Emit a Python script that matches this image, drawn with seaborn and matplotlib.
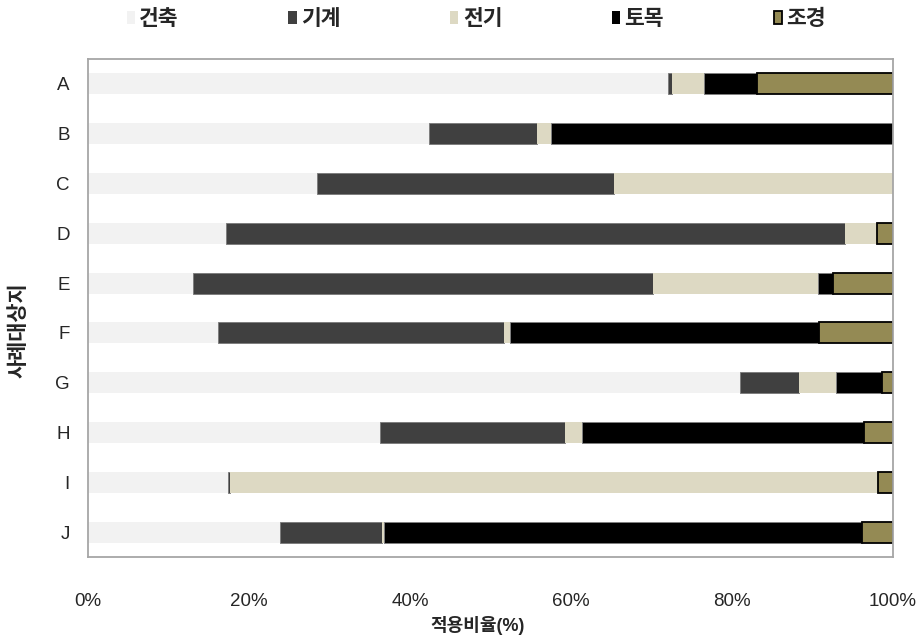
import matplotlib
matplotlib.use("Agg")
import matplotlib.pyplot as plt
from matplotlib.patches import Patch
import seaborn as sns
import pandas as pd

# Case sites and the share (%) of each discipline
sites = ["A", "B", "C", "D", "E", "F", "G", "H", "I", "J"]
series_names = ["건축", "기계", "전기", "토목", "조경"]
architecture = [72.1, 42.4, 28.5, 17.1, 13.0, 16.2, 81.0, 36.3, 17.4, 23.9]
mechanical = [0.5, 13.4, 36.9, 76.9, 57.2, 35.5, 7.3, 22.9, 0.3, 12.6]
electrical = [3.9, 1.7, 34.6, 4.0, 20.5, 0.7, 4.6, 2.2, 80.4, 0.3]
civil = [6.6, 42.5, 0.0, 0.0, 1.9, 38.4, 5.7, 35.0, 0.0, 59.4]
landscape = [16.9, 0.0, 0.0, 2.0, 7.4, 9.2, 1.4, 3.6, 1.9, 3.8]
x_ticks = [0, 20, 40, 60, 80, 100]
x_tick_labels = ["0%", "20%", "40%", "60%", "80%", "100%"]

series_values = [architecture, mechanical, electrical, civil, landscape]
colors = ["#f2f2f2", "#404040", "#ddd9c3", "#000000", "#948a54"]
edges = ["none", "#7f7f7f", "none", "#7f7f7f", "#000000"]
edge_widths = [0, 0.7, 0, 0.7, 1.3]

sns.set_style("white")
plt.rcParams["font.family"] = ["Liberation Sans", "Noto Sans CJK KR", "DejaVu Sans"]

fig = plt.figure(figsize=(9.23, 6.42), dpi=100)
ax = fig.add_axes([88 / 923, 1 - 557 / 642, 805 / 923, 498 / 642])

left = [0.0] * len(sites)
for name, vals, col, ec, lw in zip(series_names, series_values, colors, edges, edge_widths):
    df = pd.DataFrame({"site": sites, "value": vals})
    n_before = len(ax.patches)
    sns.barplot(data=df, x="value", y="site", orient="h", color=col,
                width=0.42, saturation=1, edgecolor=ec, linewidth=lw, ax=ax)
    # shift the freshly drawn segments so they stack after the previous ones
    for patch, start, v in zip(ax.patches[n_before:], left, vals):
        patch.set_x(start)
        if v <= 0:
            patch.set_visible(False)
    left = [a + b for a, b in zip(left, vals)]

ax.set_xlim(0, 100)
ax.set_ylim(9.5, -0.5)
ax.set_xticks(x_ticks)
ax.set_xticklabels(x_tick_labels, fontsize=13.5)
ax.tick_params(axis="x", direction="in", length=6, width=0.8, color="#a6a6a6", pad=26)
ax.tick_params(axis="y", length=0, pad=13, labelsize=13.5)

for side in ["left", "right", "top", "bottom"]:
    ax.spines[side].set_visible(True)
    ax.spines[side].set_color("#a6a6a6")
    ax.spines[side].set_linewidth(1.3)

ax.set_xlabel("적용비율(%)", fontsize=13, fontweight="bold")
ax.set_ylabel("사례대상지", fontsize=15, fontweight="bold")
ax.xaxis.set_label_coords(0.484, -0.118)
ax.yaxis.set_label_coords(-0.074, 0.456)

handles = [Patch(facecolor=c, edgecolor=(e if e == "#000000" else "none"), linewidth=lw)
           for c, e, lw in zip(colors, edges, edge_widths)]
fig.legend(handles, series_names, loc="center", bbox_to_anchor=(0.516, 0.97),
           ncol=5, frameon=False,
           prop={"weight": "bold", "size": 15.5},
           handlelength=0.38, handleheight=0.55, handletextpad=0.2,
           columnspacing=5.1)

fig.savefig("out.png", dpi=100)
